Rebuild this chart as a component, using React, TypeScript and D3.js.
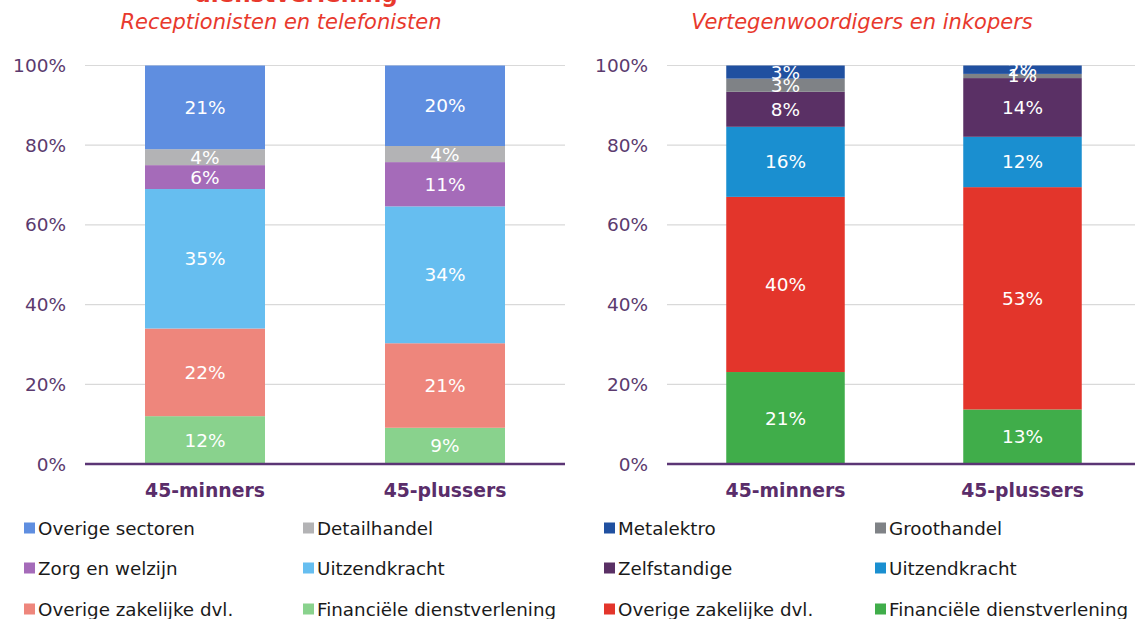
import React from "react";
import * as d3 from "d3";

const groups = ["45-minners", "45-plussers"];
const yTicks = [0, 0.2, 0.4, 0.6, 0.8, 1];

// stacking order bottom -> top
const leftKeys = [
  "Financiële dienstverlening",
  "Overige zakelijke dvl.",
  "Uitzendkracht",
  "Zorg en welzijn",
  "Detailhandel",
  "Overige sectoren",
];
const leftColors = ["#89d28d", "#ee867c", "#66bef0", "#a56bb9", "#b3b3b5", "#5f8ee0"];
const leftMinners = [12, 22, 35, 6, 4, 21];
const leftPlussers = [9, 21, 34, 11, 4, 20];

const rightKeys = [
  "Financiële dienstverlening",
  "Overige zakelijke dvl.",
  "Uitzendkracht",
  "Zelfstandige",
  "Groothandel",
  "Metalektro",
];
const rightColors = ["#40ad4a", "#e3352b", "#1a8fd0", "#5a3065", "#7f8286", "#2050a0"];
const rightMinners = [21, 40, 16, 8, 3, 3];
const rightPlussers = [13, 53, 12, 14, 1, 2];

// legend order (row by row, two columns)
const leftLegend = [
  "Overige sectoren",
  "Detailhandel",
  "Zorg en welzijn",
  "Uitzendkracht",
  "Overige zakelijke dvl.",
  "Financiële dienstverlening",
];
const rightLegend = [
  "Metalektro",
  "Groothandel",
  "Zelfstandige",
  "Uitzendkracht",
  "Overige zakelijke dvl.",
  "Financiële dienstverlening",
];

const FONT = "Verdana, 'DejaVu Sans', sans-serif";
const PURPLE = "#5b3a6e";

type PanelProps = {
  title: string;
  keys: string[];
  colors: string[];
  values: number[][];
  legend: string[];
  plotLeft: number;
  plotRight: number;
  tickX: number;
  titleX: number;
  legendX: number[];
};

function Panel(p: PanelProps) {
  const top = 65.5;
  const bottom = 464;
  const y = d3.scaleLinear().domain([0, 1]).range([bottom, top]);
  const x = d3
    .scaleBand<string>()
    .domain(groups)
    .range([p.plotLeft, p.plotRight])
    .paddingInner(0.5)
    .paddingOuter(0.25);
  const rows = groups.map((g, gi) => {
    const o: any = { group: g };
    p.keys.forEach((k, ki) => (o[k] = p.values[gi][ki]));
    return o;
  });
  const series = d3.stack<any>().keys(p.keys).offset(d3.stackOffsetExpand)(rows);
  const color = d3.scaleOrdinal<string, string>().domain(p.keys).range(p.colors);
  const legendRowsY = [528, 568, 609];

  return (
    <g>
      <text
        x={p.titleX}
        y={29}
        textAnchor="middle"
        fontStyle="italic"
        fontSize={21}
        fill="#e8392d"
        fontFamily={FONT}
      >
        {p.title}
      </text>
      {yTicks
        .filter((t) => t > 0)
        .map((t) => (
          <line
            key={t}
            x1={p.plotLeft}
            x2={p.plotRight}
            y1={y(t)}
            y2={y(t)}
            stroke="#d9d9d9"
            strokeWidth={1.2}
          />
        ))}
      {yTicks.map((t) => (
        <text
          key={t}
          x={p.tickX}
          y={y(t)}
          textAnchor="end"
          dominantBaseline="central"
          fontSize={18.5}
          fill={PURPLE}
          fontFamily={FONT}
        >
          {d3.format(".0%")(t)}
        </text>
      ))}
      {series.map((s) => (
        <g key={s.key} fill={color(s.key)}>
          {s.map((d, di) => (
            <rect
              key={di}
              x={x(d.data.group)}
              width={x.bandwidth()}
              y={y(d[1])}
              height={y(d[0]) - y(d[1])}
            />
          ))}
        </g>
      ))}
      {series.map((s) => (
        <g key={"l" + s.key}>
          {s.map((d, di) => (
            <text
              key={di}
              x={(x(d.data.group) as number) + x.bandwidth() / 2}
              y={(y(d[0]) + y(d[1])) / 2}
              textAnchor="middle"
              dominantBaseline="central"
              fontSize={18.5}
              fill="#ffffff"
              fontFamily={FONT}
            >
              {d.data[s.key] + "%"}
            </text>
          ))}
        </g>
      ))}
      <line
        x1={p.plotLeft}
        x2={p.plotRight}
        y1={bottom}
        y2={bottom}
        stroke="#5b3575"
        strokeWidth={2.5}
      />
      {groups.map((g) => (
        <text
          key={g}
          x={(x(g) as number) + x.bandwidth() / 2}
          y={490}
          textAnchor="middle"
          dominantBaseline="central"
          fontWeight="bold"
          fontSize={18.8}
          fill="#5a2d6a"
          fontFamily={FONT}
        >
          {g}
        </text>
      ))}
      {p.legend.map((name, i) => {
        const col = i % 2;
        const row = Math.floor(i / 2);
        const lx = p.legendX[col];
        const ly = legendRowsY[row];
        return (
          <g key={name}>
            <rect x={lx} y={ly - 5.5} width={11} height={11} fill={color(name)} />
            <text
              x={lx + 14}
              y={ly}
              dominantBaseline="central"
              fontSize={18.3}
              fill="#1a1a1a"
              fontFamily={FONT}
            >
              {name}
            </text>
          </g>
        );
      })}
    </g>
  );
}

export default function App() {
  return (
    <svg
      width={1135}
      height={619}
      style={{ position: "absolute", left: 0, top: 0, background: "#fff" }}
    >
      <text
        x={296}
        y={2}
        textAnchor="middle"
        fontWeight="bold"
        fontSize={23}
        fill="#e8392d"
        fontFamily={FONT}
      >
        dienstverlening
      </text>
      <Panel
        title="Receptionisten en telefonisten"
        keys={leftKeys}
        colors={leftColors}
        values={[leftMinners, leftPlussers]}
        legend={leftLegend}
        plotLeft={85}
        plotRight={565}
        tickX={66}
        titleX={281}
        legendX={[24, 303]}
      />
      <Panel
        title="Vertegenwoordigers en inkopers"
        keys={rightKeys}
        colors={rightColors}
        values={[rightMinners, rightPlussers]}
        legend={rightLegend}
        plotLeft={667}
        plotRight={1141}
        tickX={648}
        titleX={862}
        legendX={[604, 875]}
      />
    </svg>
  );
}
